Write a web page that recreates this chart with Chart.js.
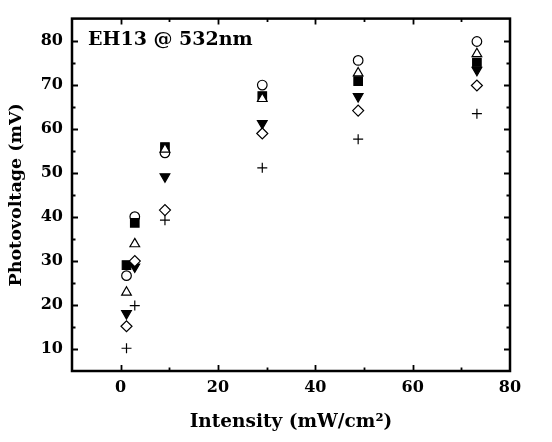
<!DOCTYPE html>
<html>
<head>
<meta charset="utf-8">
<script src="https://cdn.jsdelivr.net/npm/chart.js@4.4.1/dist/chart.umd.min.js"></script>
<style>
  html, body { margin: 0; padding: 0; background: #fff; }
  #wrap { width: 552px; height: 442px; }
</style>
</head>
<body>
<div id="wrap"><canvas id="chart" width="552" height="442"></canvas></div>
<script>
// intensity values (mW/cm2), shared by every series
const intensity = [1.2, 2.9, 9.1, 29.1, 48.8, 73.2];

// photovoltage (mV) per series
const circleVals   = [26.6, 40.0, 54.5, 69.9, 75.5, 79.8];
const squareVals   = [29.0, 38.6, 55.8, 67.4, 70.8, 75.0];
const triUpVals    = [22.8, 33.8, 55.3, 66.8, 72.6, 77.0];
const triDownVals  = [18.0, 28.6, 49.1, 61.2, 67.3, 73.3];
const diamondVals  = [15.1, 29.9, 41.5, 58.9, 64.1, 69.8];
const plusVals     = [10.1, 19.8, 39.2, 51.1, 57.6, 63.4];

const xTicks = [0, 20, 40, 60, 80];
const yTicks = [10, 20, 30, 40, 50, 60, 70, 80];

const FONT = "'DejaVu Serif', 'Liberation Serif', serif";

function toPoints(vals) {
  return vals.map((v, i) => ({ x: intensity[i], y: v }));
}

function series(label, vals, style, filled, order, extra) {
  return Object.assign({
    label: label,
    data: toPoints(vals),
    showLine: false,
    pointStyle: style,
    pointRadius: 4.8,
    pointBorderWidth: 1.2,
    pointBorderColor: '#000',
    pointBackgroundColor: filled ? '#000' : '#fff',
    order: order
  }, extra || {});
}

// frame, inward ticks on all four sides, and the label in the corner
const framePlugin = {
  id: 'frame',
  afterDraw(chart) {
    const c = chart.ctx;
    const a = chart.chartArea;
    const xs = chart.scales.x, ys = chart.scales.y;
    c.save();
    c.strokeStyle = '#000';
    c.lineWidth = 1.8;
    for (let v = -10; v <= 80; v += 10) {
      if (v === -10 || v === 80) continue;
      const px = Math.round(xs.getPixelForValue(v)) + 0.5;
      const len = v % 20 === 0 ? 6 : 3.5;
      c.beginPath();
      c.moveTo(px, a.bottom); c.lineTo(px, a.bottom - len);
      c.moveTo(px, a.top); c.lineTo(px, a.top + len);
      c.stroke();
    }
    for (let v = 10; v <= 80; v += 5) {
      const py = Math.round(ys.getPixelForValue(v)) + 0.5;
      const len = v % 10 === 0 ? 6 : 3.5;
      c.beginPath();
      c.moveTo(a.left, py); c.lineTo(a.left + len, py);
      c.moveTo(a.right, py); c.lineTo(a.right - len, py);
      c.stroke();
    }
    c.lineWidth = 2.5;
    c.strokeRect(a.left, a.top, a.right - a.left, a.bottom - a.top);
    c.fillStyle = '#000';
    c.font = 'bold 19px ' + FONT;
    c.textBaseline = 'middle';
    c.textAlign = 'left';
    c.fillText('EH13 @ 532nm', a.left + 16, a.top + 21);
    c.restore();
  }
};

new Chart(document.getElementById('chart'), {
  type: 'scatter',
  data: {
    datasets: [
      series('circle', circleVals, 'circle', false, 6),
      series('square', squareVals, 'rect', true, 5, { pointRadius: 6 }),
      series('triangle', triUpVals, 'triangle', false, 4, { pointRadius: 5.6 }),
      series('triangle down', triDownVals, 'triangle', true, 3, { pointRadius: 5.6, pointRotation: 180 }),
      series('diamond', diamondVals, 'rectRot', false, 2, { pointRadius: 5.5 }),
      series('plus', plusVals, 'cross', false, 1, { pointRadius: 5, pointBorderWidth: 1.2 })
    ]
  },
  options: {
    responsive: false,
    animation: false,
    layout: { padding: { top: 13, right: 42, left: 0, bottom: 0 } },
    plugins: {
      legend: { display: false },
      tooltip: { enabled: false }
    },
    scales: {
      x: {
        type: 'linear',
        min: -10,
        max: 80,
        afterFit(s) { s.height = 71; },
        afterBuildTicks(s) { s.ticks = xTicks.map(v => ({ value: v })); },
        grid: { display: false, drawTicks: false },
        border: { display: false },
        ticks: {
          padding: 7,
          color: '#000',
          font: { family: FONT, size: 16, weight: 'bold' }
        },
        title: {
          display: true,
          text: 'Intensity (mW/cm²)',
          color: '#000',
          padding: { top: 0, bottom: 9 },
          font: { family: FONT, size: 18.5, weight: 'bold' }
        }
      },
      y: {
        type: 'linear',
        min: 4.93,
        max: 85,
        afterFit(s) { s.width = 72; },
        afterBuildTicks(s) { s.ticks = yTicks.map(v => ({ value: v })); },
        grid: { display: false, drawTicks: false },
        border: { display: false },
        ticks: {
          padding: 9,
          color: '#000',
          font: { family: FONT, size: 16, weight: 'bold' }
        },
        title: {
          display: true,
          text: 'Photovoltage (mV)',
          color: '#000',
          padding: { top: 6, bottom: 0 },
          font: { family: FONT, size: 17.5, weight: 'bold' }
        }
      }
    }
  },
  plugins: [framePlugin]
});
</script>
</body>
</html>
